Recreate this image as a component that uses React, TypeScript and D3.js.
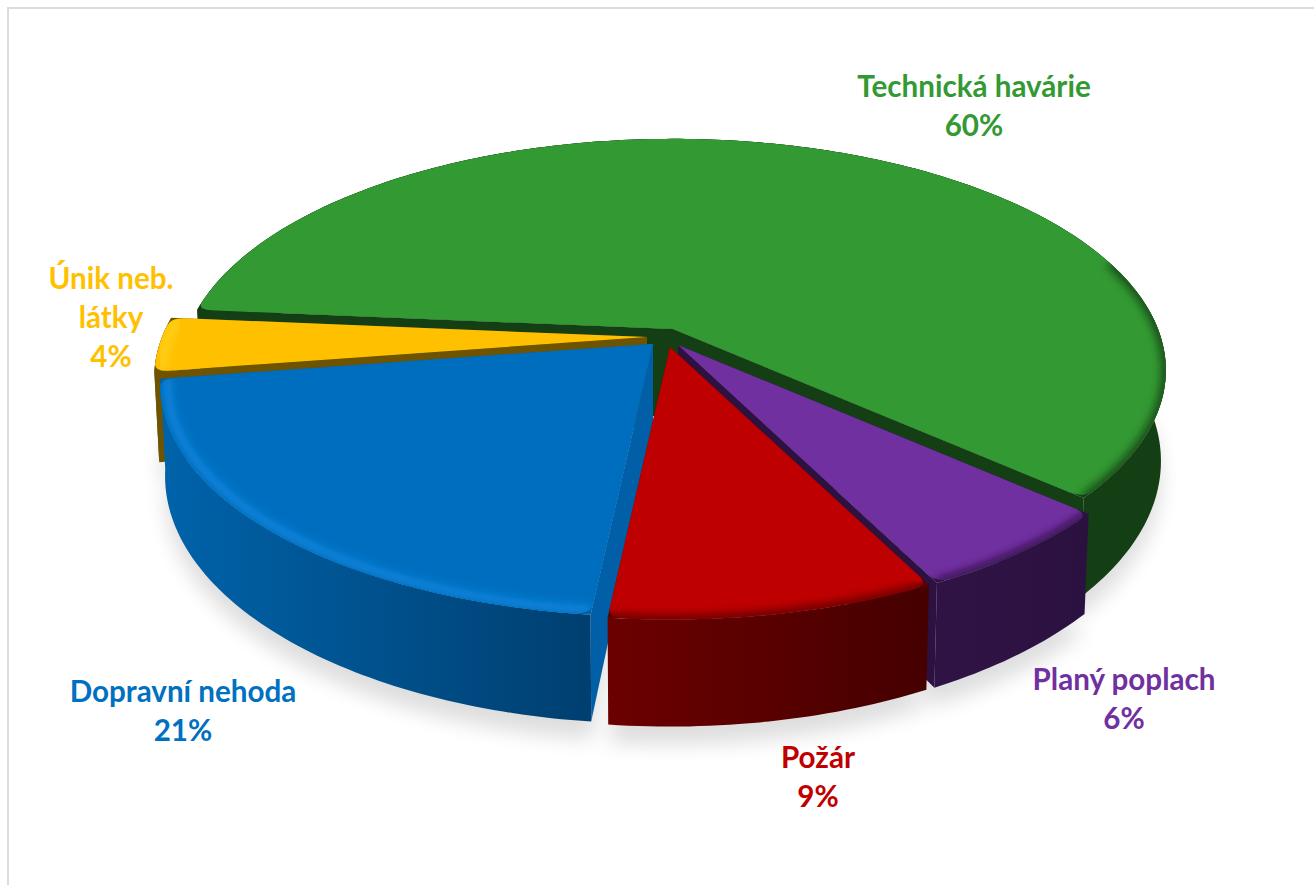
import React from "react";
import * as d3 from "d3";

const categories = ["Technická havárie", "Planý poplach", "Požár", "Dopravní nehoda", "Únik neb. látky"];
const values = [60.2, 6.0, 9.1, 20.9, 3.8];
const topColors = ["#339933", "#7030A0", "#BE0000", "#006EBE", "#FFC000"];
const labelColors = ["#339933", "#7030A0", "#C00000", "#0070C0", "#FFC000"];
const wallFrom = ["#143e14", "#2f1345", "#6c0000", "#0063aa", "#6e5300"];
const wallTo = ["#143e14", "#2b1140", "#450000", "#003f70", "#6e5300"];
const bevel = ["#143e14", "#2d1140", "#5c0000", "#0b86de", "#ffd21a"];
const faceColors = ["#143e14", "#2d1140", "#5c0000", "#005fa6", "#6e5300"];
const labelLines = [["Technická havárie", "60%"], ["Planý poplach", "6%"], ["Požár", "9%"], ["Dopravní nehoda", "21%"], ["Únik neb.", "látky", "4%"]];
const labelAnchors: [number, number][] = [[974, 97], [1124, 690], [818, 768], [183, 702], [111, 289]];
const apexes: [number, number][] = [[673, 329], [678, 345], [670, 347], [653, 344], [647, 337]];
const showStartFace = [true, false, false, true, true];
const showEndFace = [true, true, false, false, false];
const bevelFromDeg = [432, 0, 0, 0, 0];
const paintOrder = [0, 4, 3, 1, 2];

const startDeg = 275;
const P = 0.178;
const depth = d3.scaleLinear().domain([-1, 1]).range([-224, 224]);
const width = d3.scaleLinear().domain([-1, 1]).range([-485, 485]);
const heightScale = d3.scaleLinear().domain([0, 1]).range([0, 88]);

const arcs = d3.pie<number>().sort(null).startAngle((startDeg * Math.PI) / 180).endAngle(((startDeg + 360) * Math.PI) / 180)(values);

type Pt = [number, number];
function top(i: number, th: number, r = 1): Pt {
  const X = r * Math.sin(th), Y = r * Math.cos(th), den = 1 + P * Y;
  return [apexes[i][0] + width(X) / den, apexes[i][1] - depth(Y) / den];
}
function bot(i: number, th: number, r = 1): Pt {
  const X = r * Math.sin(th), Y = r * Math.cos(th), den = 1 + P * Y;
  return [apexes[i][0] + (0.99 * width(X)) / den, apexes[i][1] - depth(Y) / den + heightScale(1) / den];
}
function samples(a: number, b: number): number[] {
  const n = Math.max(2, Math.ceil(((b - a) * 180) / Math.PI));
  return d3.range(n + 1).map((k) => a + ((b - a) * k) / n);
}
const line = d3.line<Pt>();

function topPath(i: number): string {
  const { startAngle: a, endAngle: b } = arcs[i];
  const c = (2 * Math.PI) / 180;
  const p = d3.path();
  p.moveTo(...apexes[i]);
  p.lineTo(...top(i, a, 0.97));
  const s = top(i, a), e = top(i, b);
  const first = top(i, a + c);
  p.quadraticCurveTo(s[0], s[1], first[0], first[1]);
  samples(a + c, b - c).forEach((t) => p.lineTo(...top(i, t)));
  const last = top(i, b, 0.97);
  p.quadraticCurveTo(e[0], e[1], last[0], last[1]);
  p.closePath();
  return p.toString();
}
function sharpTopPath(i: number): string {
  const ts = samples(arcs[i].startAngle, arcs[i].endAngle);
  return line([apexes[i] as Pt, ...ts.map((t) => top(i, t))]) + "Z";
}
function wallPath(i: number): string {
  const ts = samples(arcs[i].startAngle, arcs[i].endAngle);
  const pts: Pt[] = [...ts.map((t) => top(i, t)), ...ts.slice().reverse().map((t) => bot(i, t))];
  return line(pts) + "Z";
}
function facePath(i: number, th: number): string {
  const A = apexes[i];
  const pts: Pt[] = [A, top(i, th), bot(i, th), [A[0], A[1] + heightScale(1)]];
  return line(pts) + "Z";
}
function rimPath(i: number, r: number): string {
  const from = Math.max(arcs[i].startAngle, (bevelFromDeg[i] * Math.PI) / 180);
  return line(samples(from, arcs[i].endAngle).map((t) => top(i, t, r))) || "";
}
function basePath(i: number): string {
  const ts = samples(arcs[i].startAngle, arcs[i].endAngle);
  const A = apexes[i];
  return line([[A[0], A[1] + heightScale(1)] as Pt, ...ts.map((t) => bot(i, t))]) + "Z";
}
function xExtent(i: number): [number, number] {
  const xs = samples(arcs[i].startAngle, arcs[i].endAngle).map((t) => top(i, t)[0]);
  return [d3.min(xs) as number, d3.max(xs) as number];
}

export default function App() {
  return (
    <svg width={1314} height={885} style={{ position: "absolute", left: 0, top: 0, display: "block", background: "#fff" }}>
      <defs>
        <filter id="sh" x="-10%" y="-10%" width="120%" height="120%"><feGaussianBlur stdDeviation="10" /></filter>
        <filter id="bv" x="-10%" y="-10%" width="120%" height="120%"><feGaussianBlur stdDeviation="4" /></filter>
        {values.map((_, i) => {
          const [x1, x2] = xExtent(i);
          return (
            <g key={i}>
              <linearGradient id={`w${i}`} gradientUnits="userSpaceOnUse" x1={x1} x2={x2} y1={0} y2={0}>
                <stop offset="0" stopColor={wallFrom[i]} />
                <stop offset="1" stopColor={wallTo[i]} />
              </linearGradient>
              <clipPath id={`c${i}`}><path d={topPath(i)} /></clipPath>
            </g>
          );
        })}
      </defs>
      <path d="M8 885V8H1314" fill="none" stroke="#dcdcdc" strokeWidth={2} />
      <g filter="url(#sh)" fill="#000" opacity={0.13} transform="translate(0,18)">
        {values.map((_, i) => <path key={i} d={basePath(i)} />)}
      </g>
      {paintOrder.map((i) => (
        <g key={categories[i]}>
          <path d={wallPath(i)} fill={`url(#w${i})`} />
          {showStartFace[i] && <path d={facePath(i, arcs[i].startAngle)} fill={faceColors[i]} />}
          {showEndFace[i] && <path d={facePath(i, arcs[i].endAngle)} fill={faceColors[i]} />}
          <path d={sharpTopPath(i)} fill={faceColors[i]} />
          <path d={topPath(i)} fill={topColors[i]} />
          <g clipPath={`url(#c${i})`}>
            <path d={rimPath(i, i === 3 || i === 4 ? 0.985 : 1)} fill="none" stroke={bevel[i]} strokeWidth={8} filter="url(#bv)" />
          </g>
        </g>
      ))}
      {labelLines.map((ls, i) => (
        <text key={i} textAnchor="middle" fontFamily="Lato" fontWeight={700} fontSize={29.6} fill={labelColors[i]}>
          {ls.map((t, k) => (
            <tspan key={k} x={labelAnchors[i][0]} y={labelAnchors[i][1] + k * 39}>{t}</tspan>
          ))}
        </text>
      ))}
    </svg>
  );
}
